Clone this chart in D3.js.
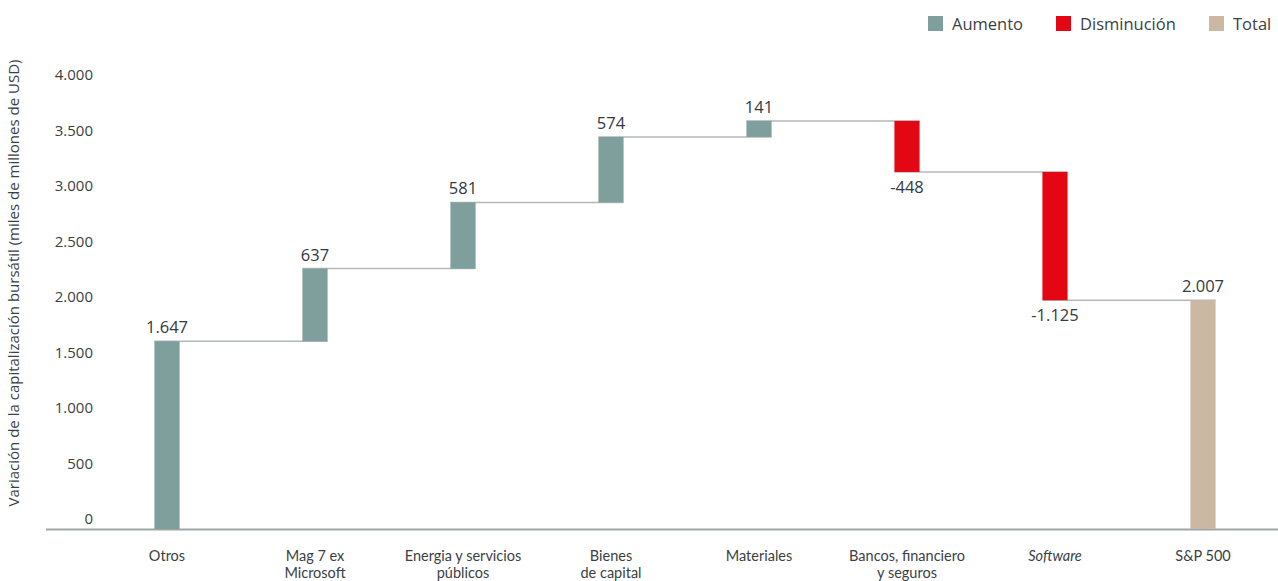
<!DOCTYPE html>
<html><head><meta charset="utf-8">
<script src="https://cdn.jsdelivr.net/npm/d3@7"></script>
<style>body{margin:0;background:#fff;font-family:"Open Sans",sans-serif;}</style>
</head><body>
<svg id="c" width="1278" height="581"></svg>
<script>
const categories = ["Otros", "Mag 7 ex|Microsoft", "Energia y servicios|públicos", "Bienes|de capital", "Materiales", "Bancos, financiero|y seguros", "Software", "S&P 500"];
const values = [1647, 637, 581, 574, 141, -448, -1125, 2007];
const kinds = ["inc","inc","inc","inc","inc","dec","dec","total"];
const labels = ["1.647","637","581","574","141","-448","-1.125","2.007"];
const yTicks = [0,500,1000,1500,2000,2500,3000,3500,4000];
const legendItems = [["Aumento","inc"],["Disminución","dec"],["Total","total"]];

const colors = {inc:"#7f9f9c", dec:"#e30613", total:"#ccb7a2"};
const svg = d3.select("#c");
const fmt = v => d3.format(",")(v).replace(/,/g,".");

let run = 0;
const data = categories.map((c,i)=>{
  let start, end;
  if (kinds[i]==="total"){ start=0; end=values[i]; }
  else { start=run; end=run+values[i]; }
  run = end;
  return {c, i, start, end, kind:kinds[i], label:labels[i]};
});

const x = d3.scaleBand().domain(categories).range([93,1277]).paddingInner(0.83).paddingOuter(0.415);
const y = d3.scaleLinear().domain([0,4000]).range([529,73]);
const yLab = d3.scaleLinear().domain([0,4000]).range([519,75]);

const ya = svg.append("g").attr("transform","translate(93,0)")
  .call(d3.axisLeft(yLab).tickValues(yTicks).tickFormat(fmt).tickSize(0).tickPadding(0));
ya.select(".domain").remove();
ya.selectAll("text").attr("font-family","Open Sans").attr("font-size",15).attr("fill","#3a3f44");

svg.append("text").attr("transform","translate(19,283) rotate(-90)")
  .attr("text-anchor","middle").attr("font-size",15).attr("fill","#3a3f44")
  .text("Variación de la capitalización bursátil (miles de millones de USD)");

svg.append("line").attr("x1",46).attr("x2",1278).attr("y1",529.5).attr("y2",529.5)
  .attr("stroke","#9ea6a6").attr("stroke-width",2);

data.slice(0,-1).forEach((d,i)=>{
  const n = data[i+1];
  svg.append("line")
    .attr("x1",x(d.c)).attr("x2",x(n.c)+x.bandwidth())
    .attr("y1",y(d.end)).attr("y2",y(d.end))
    .attr("stroke","#b3b8b8").attr("stroke-width",1.5);
});

svg.selectAll("rect.bar").data(data).enter().append("rect")
  .attr("x",d=>x(d.c)).attr("width",x.bandwidth())
  .attr("y",d=>y(Math.max(d.start,d.end)))
  .attr("height",d=>Math.abs(y(d.start)-y(d.end)))
  .attr("fill",d=>colors[d.kind]);

svg.selectAll("text.val").data(data).enter().append("text")
  .attr("x",d=>x(d.c)+x.bandwidth()/2)
  .attr("y",d=> d.kind==="dec" ? y(d.end)+21 : y(d.end)-8)
  .attr("text-anchor","middle").attr("font-size",16.5).attr("fill","#333a40")
  .text(d=>d.label);

data.forEach(d=>{
  const t = svg.append("text").attr("text-anchor","middle").attr("font-family","Lato").attr("font-size",14.5).attr("fill","#3a3f44")
    .attr("font-style", d.c==="Software" ? "italic" : "normal");
  d.c.split("|").forEach((line,k)=>{
    t.append("tspan").attr("x",x(d.c)+x.bandwidth()/2).attr("y",561+k*17).text(line);
  });
});

const legX = [928,1056,1209];
legendItems.forEach((it,k)=>{
  svg.append("rect").attr("x",legX[k]).attr("y",16).attr("width",15).attr("height",15).attr("fill",colors[it[1]]);
  svg.append("text").attr("x",legX[k]+24).attr("y",30).attr("font-size",16.5).attr("fill","#3a3f44").text(it[0]);
});
</script>
</body></html>
